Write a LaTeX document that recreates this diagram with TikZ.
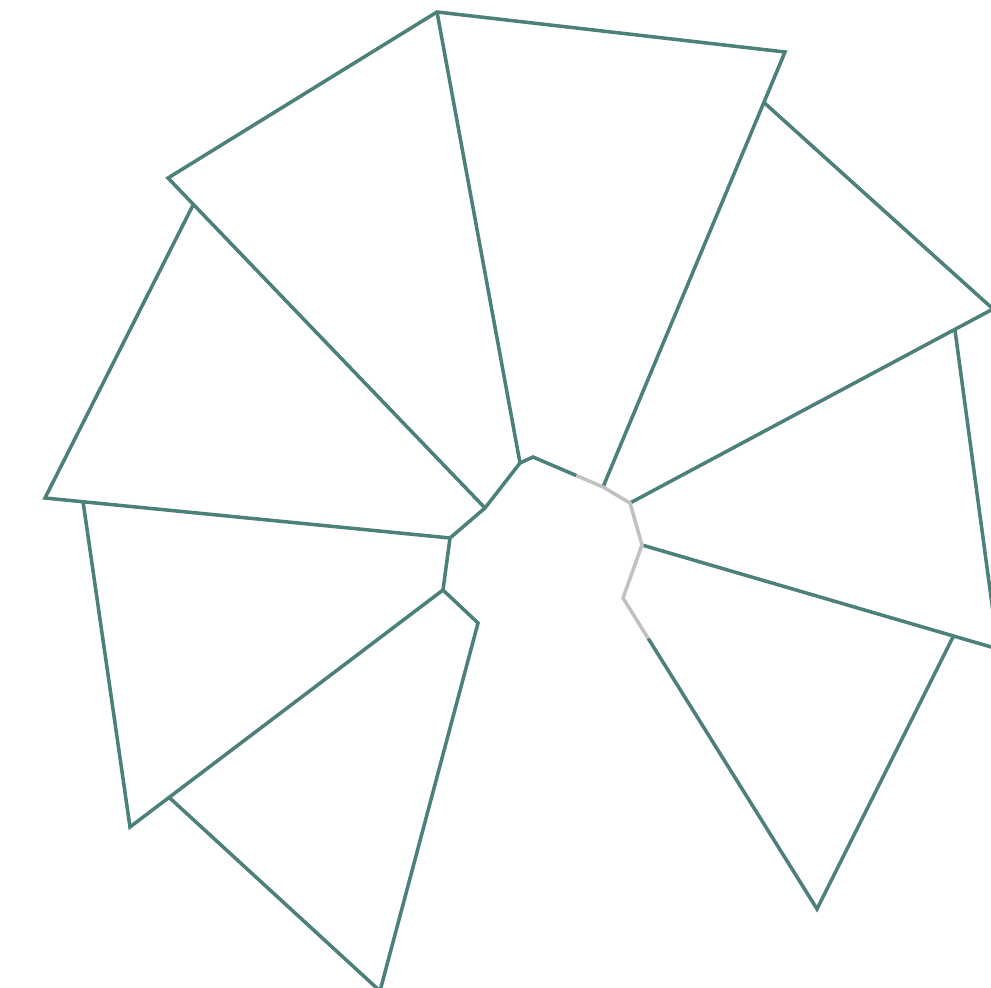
\documentclass[tikz,border=0pt]{standalone}
\usetikzlibrary{calc}
\definecolor{teal1}{RGB}{76,128,123}
\definecolor{greyline}{RGB}{192,194,194}
\tikzset{
  edge/.style={draw=teal1, line width=1pt, line join=miter},
  faint/.style={draw=greyline, line width=1pt, line join=miter}
}
\begin{document}
\begin{tikzpicture}[x=0.01cm, y=-0.01cm]
\useasboundingbox (0,0) rectangle (991,988);
\clip (0,0) rectangle (991,988);
\fill[white] (0,0) rectangle (991,988);
% centre polygon corners
\coordinate (k1) at (520,463);
\coordinate (k2) at (533,457);
\coordinate (k3) at (603,487);
\coordinate (k4) at (630,503);
\coordinate (k5) at (642,545);
\coordinate (k6) at (623,598);
\coordinate (k7) at (443,590);
\coordinate (k8) at (450,538);
\coordinate (k9) at (485,508);
% outer corners
\coordinate (a1) at (437,12);
\coordinate (a2) at (785,52);
\coordinate (b1) at ($(a2)!0.116!(k3)$);
\coordinate (b2) at (993,309);
\coordinate (c1) at ($(b2)!0.105!(k4)$);
\coordinate (c2) at (998,649);
\coordinate (d1) at ($(c2)!0.125!(k5)$);
\coordinate (d2) at (817,909);
\coordinate (e1) at (478,623);
\coordinate (e2) at (380,991);
\coordinate (f1) at (130,827);
\coordinate (e3) at ($(k7)!0.875!(f1)$);
\coordinate (g1) at (45,498);
\coordinate (f2) at ($(k8)!0.906!(g1)$);
\coordinate (h1) at (168,178);
\coordinate (g2) at ($(k9)!0.92!(h1)$);
\coordinate (m1) at ($(k2)!0.62!(k3)$);
\coordinate (m2) at ($(k6)!0.13!(d2)$);
% blades
\draw[edge] (k9) -- (h1) -- (a1) -- (a2) -- (k3);
\draw[edge] (a1) -- (k1) -- (k2) -- (m1);
\draw[edge] (b1) -- (b2) -- (k4);
\draw[edge] (c1) -- (c2) -- (k5);
\draw[edge] (d1) -- (d2) -- (m2);
\draw[faint] (m2) -- (k6) -- (k5) -- (k4) -- (k3) -- (m1);
\draw[edge] (e3) -- (e2) -- (e1) -- (k7) -- (k8) -- (k9) -- (k1);
\draw[edge] (f2) -- (f1) -- (k7);
\draw[edge] (g2) -- (g1) -- (k8);
\end{tikzpicture}
\end{document}
